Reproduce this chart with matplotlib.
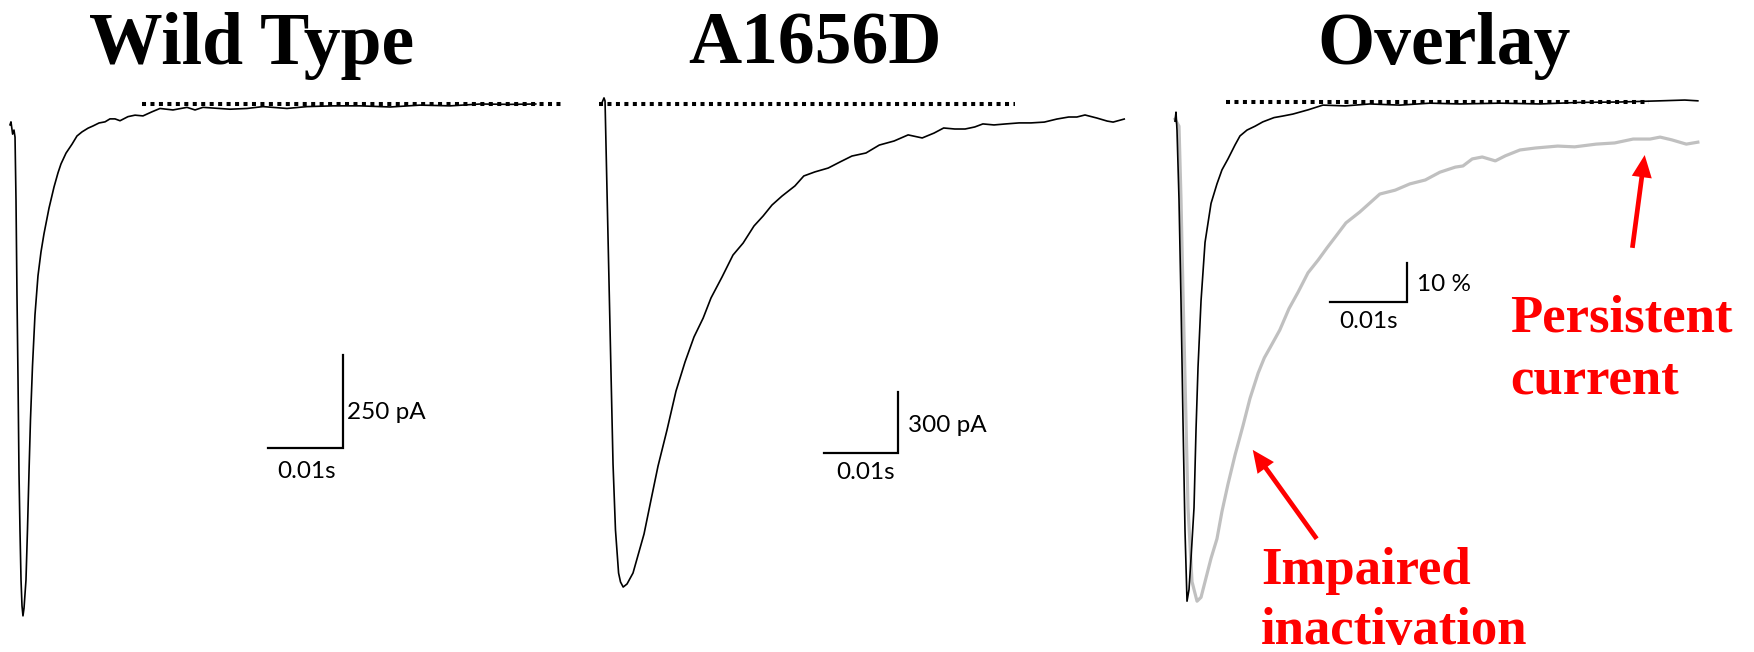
import numpy as np
import matplotlib
matplotlib.use('Agg')
from matplotlib import pyplot as plt

W, H = 1754, 652

# wild type trace, time in ms, current in pA
wt_time = [0, 0.13, 0.35, 0.53, 0.67, 0.8, 0.93, 1.07, 1.2, 1.33, 1.47, 1.6, 1.73, 1.87, 2.13,
           2.33, 2.53, 2.73, 3.0, 3.33, 3.73, 4.13, 4.53, 5.2, 5.87, 6.4, 6.8, 7.47, 8.27, 8.93,
           9.6, 10.4, 11.07, 11.87, 12.67, 13.33, 14.0, 14.67, 15.73, 16.67, 17.73, 18.93, 20.0,
           21.73, 23.6, 24.67, 25.73, 29.33, 31.6, 33.73, 36.93, 39.6, 43.07, 46.7, 50.7, 54.7,
           58.7, 62.7, 66.7, 70.1]
wt_current = [-56, -48, -81, -70, -89, -258, -511, -742, -992, -1145, -1280, -1349, -1376, -1355, -1280,
              -1145, -992, -849, -704, -567, -462, -398, -349, -280, -223, -185, -161, -132, -108, -86,
              -75, -65, -59, -51, -48, -40, -40, -45, -34, -30, -32, -21, -12,
              -16, -9, -16, -9, -14, -12, -7, -12, -7, -5, -5, -8, -3,
              -5, 0, -1, 0]

# A1656D trace
mut_time = [-0.4, 0, 0.14, 0.41, 0.68, 0.95, 1.22, 1.55, 1.97, 2.23, 2.59, 3.11, 3.92, 5.41, 6.35,
            7.3, 8.51, 9.73, 10.95, 12.16, 13.4, 14.46, 15.95, 17.43, 18.8, 20.27, 21.5, 22.7, 24.05,
            25.8, 27.0, 28.5, 30.3, 31.9, 33.5, 35.4, 37.2, 39.2, 41.1, 43.0, 44.6, 45.9, 47.4, 48.8,
            50.1, 51.2, 52.7, 54.3, 56.1, 57.7, 59.5, 61.2, 62.8, 63.9, 65.0, 66.6, 68.0, 68.8, 70.3]
mut_current = [-5, 30, 15, -433, -880, -1328, -1771, -2095, -2307, -2351, -2376, -2361, -2307, -2115, -1948,
               -1781, -1604, -1412, -1269, -1146, -1053, -954, -851, -743, -684, -600, -551, -497, -453,
               -403, -354, -334, -315, -285, -256, -241, -202, -182, -152, -167, -143, -118, -123, -123,
               -113, -98, -103, -98, -93, -93, -89, -74, -64, -64, -54, -69, -84, -89, -74]

# overlay, normalized (%)
ov_wt_time = [0, 0.13, 0.26, 0.52, 0.78, 1.04, 1.3, 1.56, 1.82, 2.08, 2.47, 2.73, 2.99, 3.38, 3.9,
              4.68, 5.45, 6.1, 6.88, 7.8, 8.44, 9.35, 10.4, 11.4, 12.86, 14.0, 15.3, 17.3, 19.2, 22.1,
              25.3, 29.2, 33.1, 37.0, 42.2, 47.4, 52.6, 57.8, 63.0, 66.2, 67.9]
ov_wt = [-4.9, -2.6, -7.2, -25, -51, -82, -110, -128, -125, -117, -104, -84, -68, -51, -36,
         -26, -21, -17.4, -14.6, -11, -8.7, -7.2, -6.2, -5.1, -4, -3.6, -3.1, -2, -0.8, -1,
         -0.5, -0.8, -0.3, -0.5, -0.3, -0.5, -0.1, 0, 0.3, 0.5, 0.3]
ov_mut_time = [0, 0.52, 0.78, 1.04, 1.43, 1.69, 2.21, 2.86, 3.38, 3.9, 4.68, 5.45, 6.1, 6.88, 7.8,
               8.83, 9.74, 10.8, 11.6, 12.34, 13.6, 14.8, 16.0, 17.27, 18.6, 19.74, 20.9, 22.2, 24.0,
               26.6, 28.6, 30.5, 32.5, 34.4, 36.4, 37.4, 38.6, 39.9, 41.6, 42.9, 44.8, 46.8, 49.7,
               51.9, 54.7, 57.1, 59.5, 61.7, 63.0, 64.5, 66.4, 67.9]
ov_mut = [-4.4, -6.2, -25, -49, -82, -104, -123, -128, -127, -123, -117, -112, -105, -98, -90.5,
          -83, -76, -69.5, -65.6, -63, -58.5, -53, -48.7, -43.8, -40.5, -37.4, -34.4, -31, -28.2,
          -23.6, -22.6, -21, -20, -18, -16.7, -16.4, -14.6, -14.1, -15.1, -13.8, -12.3, -11.8, -11.3,
          -11.5, -10.8, -10.5, -9.5, -9.5, -9, -9.7, -10.8, -10.3]

titles = ['Wild Type', 'A1656D', 'Overlay']
scale_labels = ['250 pA', '300 pA', '10 %']

fig = plt.figure(figsize=(W / 100, H / 100), dpi=100)
fig.patch.set_facecolor('white')

serif = 'Liberation Serif'
sans = ['Lato', 'DejaVu Sans']


def panel_axes(x0, y0, sx, sy):
    # axes over the whole figure, origin (t=0, I=0) at pixel x0,y0
    ax = fig.add_axes([0, 0, 1, 1])
    ax.set_xlim(-x0 / sx, (W - x0) / sx)
    ax.set_ylim(-(H - y0) / sy, y0 / sy)
    ax.axis('off')
    ax.patch.set_alpha(0)
    return ax


def scale_bar(ax, t, i, dt, di, label, lab_pos, t_pos):
    ax.plot([t - dt, t, t], [i, i, i + di], color='black', lw=1.6, solid_joinstyle='miter')
    ax.text(lab_pos[0], lab_pos[1], label, ha='left', va='center', fontsize=17.5, family=sans)
    ax.text(t_pos[0], t_pos[1], '0.01s', ha='center', va='center', fontsize=17.5, family=sans)


dots = dict(color='black', lw=2.9, linestyle=(0, (1, 1.1)), dash_capstyle='butt')

ax1 = panel_axes(10, 104, 7.5, 0.372)
ax1.plot([17.6, 73.7], [0, 0], **dots)
ax1.plot(wt_time, wt_current, color='black', lw=1.2)
scale_bar(ax1, 44.4, -925, 10, 250, scale_labels[0], (44.9, -828), (39.6, -988))

ax2 = panel_axes(604, 104, 7.4, 0.2033)
ax2.plot([-0.7, 55.5], [0, 0], **dots)
ax2.plot(mut_time, mut_current, color='black', lw=1.2)
scale_bar(ax2, 39.7, -1717, 10, 300, scale_labels[1], (41.1, -1579), (35.4, -1815))

ax3 = panel_axes(1175, 102, 7.7, 3.9)
ax3.plot([6.6, 61.6], [0, 0], **dots)
ax3.plot(ov_mut_time, ov_mut, color='#c0c0c0', lw=2.3)
ax3.plot(ov_wt_time, ov_wt, color='black', lw=1.2)
scale_bar(ax3, 30.1, -51.3, 10, 10, scale_labels[2], (31.4, -46.9), (25.1, -56.3))

arrow = dict(arrowstyle='simple,head_length=1.6,head_width=1.45,tail_width=0.34',
             mutation_scale=10, fc='red', ec='none', shrinkA=0, shrinkB=0)
ax3.annotate('', xy=(10.1, -89.2), xytext=(18.4, -112), arrowprops=arrow)
ax3.annotate('', xy=(61.0, -13.6), xytext=(59.4, -37.4), arrowprops=arrow)

for x, txt in zip([252, 815, 1444], titles):
    fig.text(x / W, 1 - 64 / H, txt, ha='center', va='baseline', fontsize=53,
             family=serif, fontweight='bold')

red = dict(ha='left', va='baseline', fontsize=38, family=serif, fontweight='bold', color='red')
fig.text(1510 / W, 1 - 332 / H, 'Persistent', **red)
fig.text(1510 / W, 1 - 394 / H, 'current', **red)
fig.text(1261 / W, 1 - 584 / H, 'Impaired', **red)
fig.text(1261 / W, 1 - 644 / H, 'inactivation', **red)

plt.savefig('out.png', dpi=100, facecolor='white')
